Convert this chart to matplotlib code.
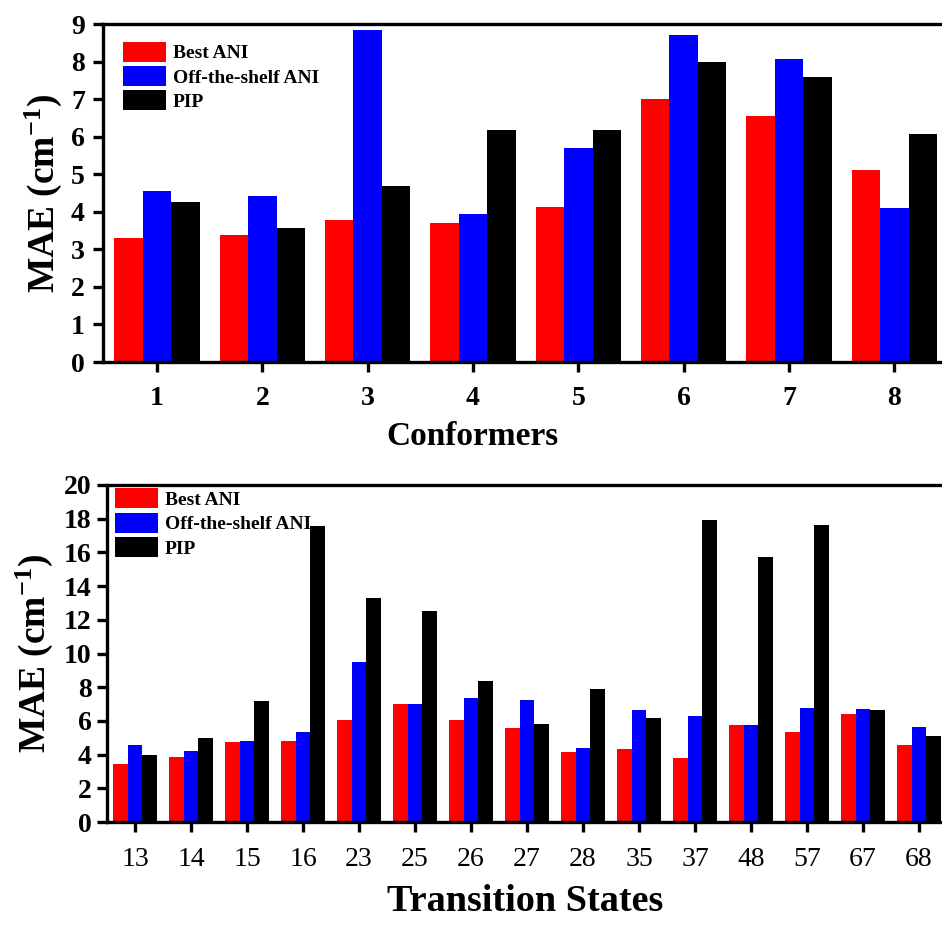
import matplotlib
matplotlib.use("Agg")
import matplotlib.pyplot as plt
import numpy as np

# ---- data ----
conformers = ["1", "2", "3", "4", "5", "6", "7", "8"]
conf_best_ani = [3.31, 3.37, 3.77, 3.70, 4.14, 6.99, 6.56, 5.10]
conf_offshelf_ani = [4.56, 4.42, 8.85, 3.95, 5.71, 8.71, 8.06, 4.11]
conf_pip = [4.26, 3.56, 4.69, 6.18, 6.18, 8.00, 7.58, 6.08]

ts_labels = ["13", "14", "15", "16", "23", "25", "26", "27", "28", "35",
             "37", "48", "57", "67", "68"]
ts_best_ani = [3.43, 3.86, 4.77, 4.83, 6.06, 7.03, 6.06, 5.56, 4.14, 4.36,
               3.78, 5.76, 5.33, 6.42, 4.55]
ts_offshelf_ani = [4.55, 4.20, 4.83, 5.33, 9.52, 7.03, 7.33, 7.25, 4.42, 6.63,
                   6.28, 5.76, 6.77, 6.69, 5.62]
ts_pip = [3.98, 4.99, 7.19, 17.56, 13.31, 12.51, 8.38, 5.84, 7.90, 6.20,
          17.92, 15.70, 17.64, 6.63, 5.13]

series_names = ["Best ANI", "Off-the-shelf ANI", "PIP"]
colors = ["#FF0000", "#0000FF", "#000000"]

plt.rcParams['font.family'] = ['Liberation Serif', 'DejaVu Serif']
plt.rcParams['font.weight'] = 'bold'
plt.rcParams['mathtext.fontset'] = 'custom'
plt.rcParams['mathtext.rm'] = 'Liberation Serif:bold'
plt.rcParams['mathtext.it'] = 'Liberation Serif:bold'
plt.rcParams['mathtext.bf'] = 'Liberation Serif:bold'
plt.rcParams['mathtext.default'] = 'bf'

W, H = 942, 926
fig = plt.figure(figsize=(W / 100, H / 100), dpi=100)

def px_axes(left, top, right, bottom):
    return fig.add_axes([left / W, 1 - bottom / H, (right - left) / W, (bottom - top) / H])

def style(ax):
    for s in ["left", "bottom", "top"]:
        ax.spines[s].set_linewidth(2.4)
    ax.spines["right"].set_visible(False)
    ax.tick_params(axis="both", direction="out", length=7, width=2.4)
    ax.tick_params(top=False, right=False)

legend_kw = dict(loc="upper left", frameon=False,
                 prop={"family": "Liberation Serif", "weight": "bold", "size": 14},
                 handlelength=2.2, handleheight=1.2, labelspacing=0.2, handletextpad=0.35,
                 borderpad=0, borderaxespad=0)

# ---- top panel ----
ax1 = px_axes(103, 24, 947, 362)
x1 = np.arange(1, len(conformers) + 1)
w1 = 0.27
for i, (vals, c, n) in enumerate(zip([conf_best_ani, conf_offshelf_ani, conf_pip], colors, series_names)):
    ax1.bar(x1 + (i - 1) * w1, vals, width=w1, color=c, label=n, linewidth=0)
ax1.set_xlim(0.487, 8.5)
ax1.set_ylim(0, 9)
ax1.set_yticks(range(0, 10))
ax1.set_xticks(x1)
ax1.set_xticklabels(conformers)
style(ax1)
ax1.tick_params(axis="x", labelsize=20, pad=10)
ax1.tick_params(axis="y", labelsize=20, pad=6)
ax1.set_xlabel("Conformers", fontsize=24, fontweight="bold")
ax1.xaxis.set_label_coords(0.438, -0.175)
ax1.set_ylabel(r"MAE (cm$^{-1}$)", fontsize=27, fontweight="bold")
ax1.yaxis.set_label_coords(-0.046, 0.5)
ax1.legend(bbox_to_anchor=(0.0237, 0.948), **legend_kw)

# ---- bottom panel ----
ax2 = px_axes(107, 485, 947, 822)
x2 = np.arange(len(ts_labels))
w2 = 0.265
for i, (vals, c, n) in enumerate(zip([ts_best_ani, ts_offshelf_ani, ts_pip], colors, series_names)):
    ax2.bar(x2 + (i - 1) * w2, vals, width=w2, color=c, label=n, linewidth=0)
ax2.set_xlim(-0.5, 14.5)
ax2.set_ylim(0, 20)
ax2.set_yticks(range(0, 21, 2))
ax2.set_xticks(x2)
ax2.set_xticklabels(ts_labels, fontweight="normal")
style(ax2)
ax2.tick_params(axis="x", labelsize=20, pad=11)
ax2.tick_params(axis="y", labelsize=20, pad=4)
ax2.set_xlabel("Transition States", fontsize=27.5, fontweight="bold")
ax2.xaxis.set_label_coords(0.4976, -0.185)
ax2.set_ylabel(r"MAE (cm$^{-1}$)", fontsize=27, fontweight="bold")
ax2.yaxis.set_label_coords(-0.062, 0.5)
ax2.legend(bbox_to_anchor=(0.0095, 0.99), **legend_kw)

fig.savefig("out.png", dpi=100)
